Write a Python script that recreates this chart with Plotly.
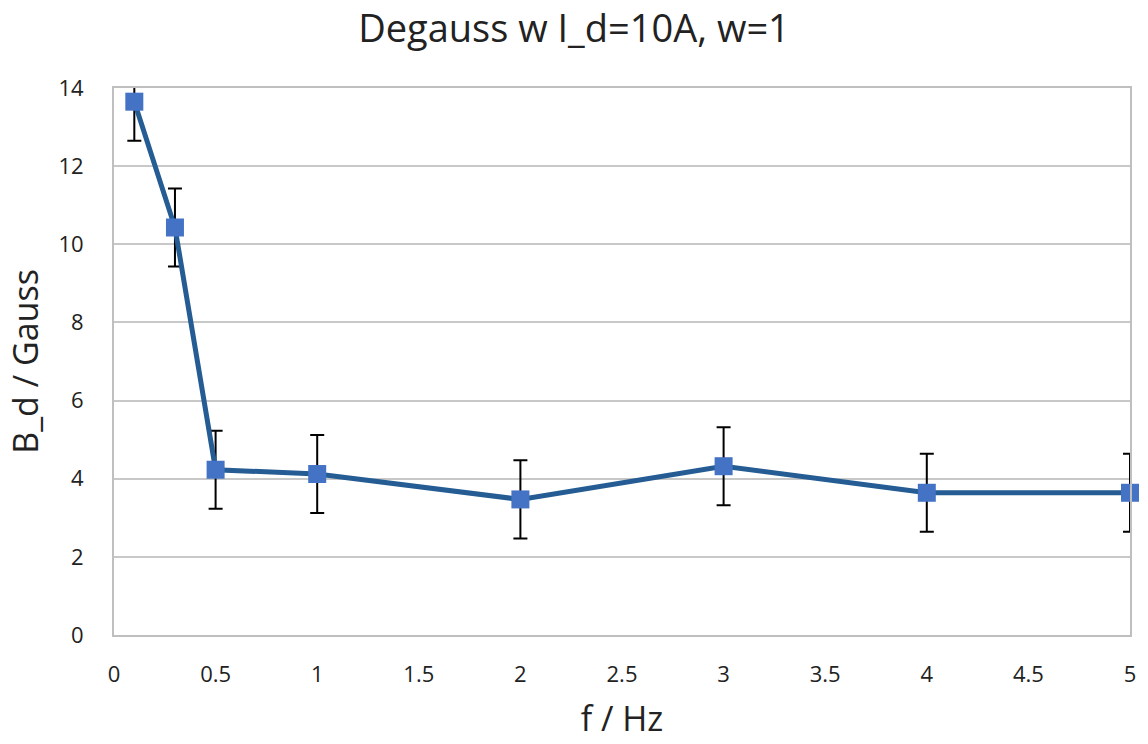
import plotly.graph_objects as go

f_hz = [0.1, 0.3, 0.5, 1, 2, 3, 4, 5]
b_d = [13.65, 10.43, 4.23, 4.12, 3.47, 4.32, 3.64, 3.64]
err = [1.0, 1.0, 1.0, 1.0, 1.0, 1.0, 1.0, 1.0]

fig = go.Figure()
fig.add_trace(go.Scatter(
    x=f_hz, y=b_d, mode="lines+markers",
    line=dict(color="#245C93", width=5),
    marker=dict(symbol="square", size=18, color="#4472C4"),
    error_y=dict(type="data", array=err, visible=True, color="black", thickness=2, width=7),
    cliponaxis=False,
))

font_fam = "Open Sans, Liberation Sans, sans-serif"
fig.update_layout(
    width=1148, height=744,
    margin=dict(l=114, r=14, t=88, b=109),
    paper_bgcolor="white", plot_bgcolor="white",
    showlegend=False,
    title=dict(text="Degauss w I_d=10A, w=1", x=0.5, xanchor="center", y=0.962, yanchor="middle",
               font=dict(family=font_fam, size=38, color="#222222")),
    font=dict(family=font_fam, color="#222222"),
)
fig.update_xaxes(range=[0, 5], tickvals=[0, 0.5, 1, 1.5, 2, 2.5, 3, 3.5, 4, 4.5, 5],
                 ticktext=["0", "0.5", "1", "1.5", "2", "2.5", "3", "3.5", "4", "4.5", "5"],
                 showgrid=False, showline=True, linecolor="#BFBFBF", linewidth=2, mirror=True,
                 ticks="", tickfont=dict(size=22), zeroline=False, ticklabelstandoff=19,
                 title=dict(text="f / Hz", font=dict(size=34), standoff=20))
fig.update_yaxes(range=[0, 14], tickvals=[0, 2, 4, 6, 8, 10, 12, 14],
                 showgrid=True, gridcolor="#C8C8C8", gridwidth=2,
                 showline=True, linecolor="#BFBFBF", linewidth=2, mirror=True,
                 ticks="", tickfont=dict(size=22), zeroline=False, ticklabelstandoff=24,
                 title=dict(text="B_d / Gauss", font=dict(size=34), standoff=10))

fig.write_html("out.html")
